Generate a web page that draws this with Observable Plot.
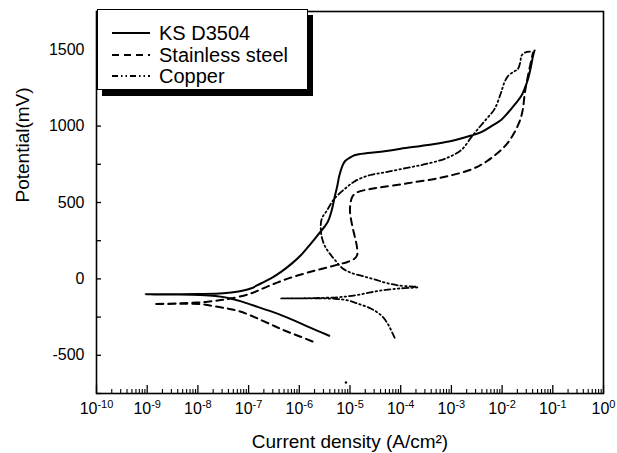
<!DOCTYPE html>
<html><head><meta charset="utf-8">
<script src="https://cdn.jsdelivr.net/npm/d3@7"></script>
<script src="https://cdn.jsdelivr.net/npm/@observablehq/plot@0.6"></script>
<style>
body{margin:0;background:#fff;font-family:"Liberation Sans",Arial,sans-serif;}
#wrap{position:relative;width:617px;height:453px;}
#legend{position:absolute;left:97px;top:9px;width:211px;height:81px;border:1px solid #000;background:#fff;box-shadow:5px 6px 0 #000;box-sizing:border-box;}
.li{position:absolute;left:0;height:22px;width:210px;}
.li svg{position:absolute;left:13px;top:5px;}
.li span{position:absolute;left:61px;top:0;font-size:20px;line-height:22px;color:#000;white-space:nowrap;}
</style></head><body><div id="wrap"></div>
<script>
// Polarization curves: log10 of current density (A/cm^2) and potential (mV)
const ksLogI = [-5.41,-5.65,-5.90,-6.13,-6.36,-6.60,-6.82,-7.10,-7.35,-7.65,-7.95,-8.50,-9.03,
  -8.50,-8.00,-7.50,-7.20,-6.96,-6.76,-6.55,-6.36,-6.15,-5.97,-5.80,-5.64,-5.44,-5.36,-5.31,-5.25,-5.21,-5.15,-5.10,-5.02,-4.90,-4.65,-4.32,-4.00,-3.60,-3.33,-3.00,-2.61,-2.40,-2.21,-2.02,-1.88,-1.74,-1.62,-1.55,-1.49,-1.43,-1.39,-1.36];
const ksMV = [-372,-338,-302,-268,-237,-208,-183,-152,-128,-112,-105,-102,-101,
  -100,-99,-94,-82,-63,-30,5,46,100,155,220,285,372,450,524,610,676,740,770,790,811,824,835,852,870,883,902,938,962,1000,1040,1089,1145,1198,1250,1307,1390,1459,1495];

const ssLogI = [-5.74,-6.00,-6.23,-6.40,-6.56,-6.85,-7.15,-7.40,-7.61,-7.94,-8.40,-8.87,
  -8.40,-8.10,-7.81,-7.55,-7.35,-6.96,-6.70,-6.45,-6.20,-5.90,-5.65,-5.41,-5.20,-5.05,-4.92,-4.86,-4.86,-4.88,-4.93,-4.97,-5.00,-4.99,-4.95,-4.85,-4.60,-4.39,-4.00,-3.73,-3.33,-3.00,-2.67,-2.45,-2.30,-2.15,-2.00,-1.88,-1.78,-1.69,-1.63,-1.59,-1.55,-1.49,-1.42,-1.39];
const ssMV = [-410,-375,-346,-322,-298,-255,-215,-195,-183,-165,-163,-165,
  -160,-156,-150,-138,-128,-96,-60,-26,5,35,58,78,97,111,130,155,200,241,310,372,440,495,540,568,588,600,618,633,654,678,709,740,770,807,850,894,945,1003,1055,1111,1220,1329,1437,1481];

const cuLogI = [-4.12,-4.16,-4.26,-4.39,-4.59,-4.85,-5.05,-5.30,-5.80,-6.36,
  -5.80,-5.24,-4.90,-4.59,-4.30,-4.00,-3.66,-4.06,-4.30,-4.52,-4.75,-4.98,-5.15,-5.30,-5.42,-5.51,-5.57,-5.56,-5.45,-5.32,-5.10,-4.90,-4.60,-4.30,-3.90,-3.50,-3.10,-2.80,-2.61,-2.48,-2.30,-2.15,-2.02,-1.95,-1.88,-1.75,-1.69,-1.64,-1.62,-1.55,-1.45];
const cuMV = [-385,-357,-291,-237,-194,-161,-140,-130,-128,-128,
  -126,-120,-108,-88,-72,-62,-54,-42,-25,-3,18,40,70,125,175,225,300,390,450,520,590,640,680,698,725,752,790,845,926,980,1050,1111,1220,1290,1329,1360,1372,1420,1459,1481,1487];

// stray speck near the x axis
const speckLogI = [-5.08];
const speckMV = [-678];

const seriesNames = ["KS D3504", "Stainless steel", "Copper"];
const xDecades = [-10,-9,-8,-7,-6,-5,-4,-3,-2,-1,0];
const yLabelTicks = [-500,0,500,1000,1500];
const yMinorTicks = [-750,-500,-250,0,250,500,750,1000,1250,1500,1750];

const toRows = (li, mv) => li.map((v, k) => ({i: Math.pow(10, v), e: mv[k]}));
const ks = toRows(ksLogI, ksMV);
const ss = toRows(ssLogI, ssMV);
const cu = toRows(cuLogI, cuMV);
const speck = toRows(speckLogI, speckMV);

const xMajor = xDecades.map(d => Math.pow(10, d));
const xMinor = [];
xDecades.slice(0, -1).forEach(d => { for (let m = 2; m <= 9; m++) xMinor.push(m * Math.pow(10, d)); });

const W = 617, H = 453, ML = 96, MR = 14, MT = 11, MB = 60;
const PW = W - ML - MR, PH = H - MT - MB;

const dashSS = "7,5";
const dashCU = "6,3,1.5,3,1.5,3";

const chart = Plot.plot({
  width: W, height: H,
  marginLeft: ML, marginRight: MR, marginTop: MT, marginBottom: MB,
  style: {fontFamily: "'Liberation Sans', Arial, sans-serif", fontSize: "16px", color: "#000", background: "#fff", overflow: "visible"},
  x: {type: "log", domain: [1e-10, 1]},
  y: {domain: [-750, 1750]},
  marks: [
    Plot.axisX(xMajor, {tickSize: 0, tickPadding: 9, fontSize: 16, tickFormat: d => String(Math.round(Math.log10(d))), label: null}),
    Plot.axisY(yLabelTicks, {tickSize: 0, tickPadding: 12, fontSize: 16, tickFormat: d => String(d), label: null}),
    Plot.tickX(xMajor, {x: d => d, insetTop: PH - 8, stroke: "#000", strokeWidth: 1.3}),
    Plot.tickX(xMinor, {x: d => d, insetTop: PH - 4, stroke: "#000", strokeWidth: 1.1}),
    Plot.tickY(yMinorTicks, {y: d => d, insetRight: PW - 5, stroke: "#000", strokeWidth: 1.3}),
    Plot.frame({stroke: "#000", strokeWidth: 1.6}),
    Plot.line(ks, {x: "i", y: "e", stroke: "#000", strokeWidth: 2, curve: "catmull-rom"}),
    Plot.line(ss, {x: "i", y: "e", stroke: "#000", strokeWidth: 2, strokeDasharray: dashSS, curve: "catmull-rom"}),
    Plot.line(cu, {x: "i", y: "e", stroke: "#000", strokeWidth: 1.8, strokeDasharray: dashCU, curve: "catmull-rom"}),
    Plot.dot(speck, {x: "i", y: "e", r: 1.2, fill: "#000", stroke: null}),
    Plot.text(["Current density (A/cm²)"], {frameAnchor: "bottom", dy: 48, fontSize: 19, lineAnchor: "middle", text: d => d}),
    Plot.text(["Potential(mV)"], {frameAnchor: "left", dx: -74, rotate: -90, fontSize: 19, lineAnchor: "middle", text: d => d})
  ]
});

// superscript exponents on x tick labels
chart.querySelectorAll('g[aria-label="x-axis tick label"] text').forEach(t => {
  const exp = t.textContent;
  t.textContent = "";
  const ns = "http://www.w3.org/2000/svg";
  const a = document.createElementNS(ns, "tspan"); a.textContent = "10";
  const b = document.createElementNS(ns, "tspan"); b.textContent = exp;
  b.setAttribute("dy", "-0.5em"); b.setAttribute("font-size", "11");
  t.appendChild(a); t.appendChild(b);
});

const wrap = document.getElementById("wrap");
wrap.appendChild(chart);

// legend
const leg = document.createElement("div");
leg.id = "legend";
const dashes = [null, dashSS, dashCU];
seriesNames.forEach((name, k) => {
  const row = document.createElement("div");
  row.className = "li";
  row.style.top = (12 + k * 21.5) + "px";
  const da = dashes[k] ? `stroke-dasharray="${dashes[k]}"` : "";
  row.innerHTML = `<svg width="40" height="12"><line x1="1" y1="6" x2="39" y2="6" stroke="#000" stroke-width="2" ${da}/></svg><span>${name}</span>`;
  leg.appendChild(row);
});
wrap.appendChild(leg);
</script>
</body></html>
